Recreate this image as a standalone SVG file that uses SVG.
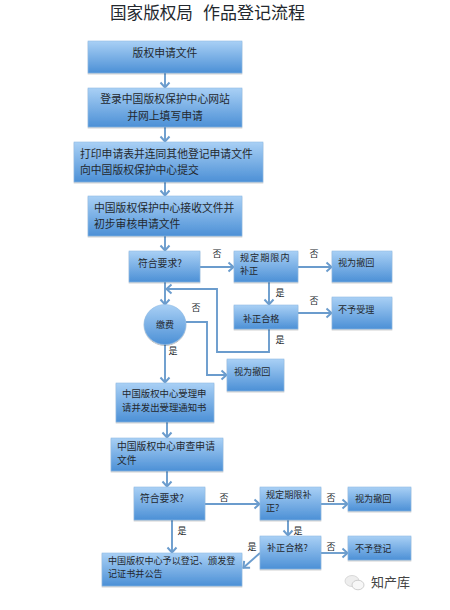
<svg xmlns="http://www.w3.org/2000/svg" width="450" height="610" viewBox="0 0 450 610">
<style>
text{font-family:"Noto Sans CJK SC","Noto Sans",sans-serif;fill:#23282e}
.b{fill:url(#g);stroke:#8fbbe4;stroke-width:.6;filter:url(#s)}
.t11{font-size:10.8px}.t10{font-size:9.800px}.t9{font-size:9.100px}.l{font-size:9px;text-anchor:middle}
#connectors path{fill:none;stroke:#6b9ccd;stroke-width:1.9;marker-end:url(#a)}
</style>
<defs>
<linearGradient id="g" x1="0" y1="0" x2="0" y2="1"><stop offset="0" stop-color="#a9d0f5"/><stop offset="1" stop-color="#4c90d6"/></linearGradient>
<filter id="s" x="-10%" y="-10%" width="120%" height="130%"><feDropShadow dx="0" dy="1" stdDeviation=".7" flood-color="#000" flood-opacity=".3"/></filter>
<marker id="a" markerUnits="userSpaceOnUse" markerWidth="10" markerHeight="12" refX="7" refY="6" orient="auto"><path d="M1.5,1.500 L6.500,6 L1.5,10.500" fill="none" stroke="#6b9ccd" stroke-width="2"/></marker>
</defs>
<rect width="450" height="610" fill="#fff"/>
<g id="title"><text x="110" y="19" style="font-size:16.6px">国家版权局</text><text x="203" y="19" style="font-size:17px">作品登记流程</text></g>
<g id="connectors">
<path d="M165,73V88"/><path d="M165,127V142"/><path d="M165,182V196"/><path d="M165,236V251"/>
<path d="M200,267H234"/><path d="M298,267H332"/><path d="M269,282V305"/><path d="M298,313H332"/>
<path d="M165,282V305"/><path d="M269,329V352H217V289H166"/><path d="M186,322H207V375H227"/><path d="M165,344V383"/>
<path d="M167,422V438"/><path d="M167,471V487"/><path d="M205,504H260"/><path d="M321,504H348"/>
<path d="M288,520V536"/><path d="M321,553H348"/><path d="M172,520V553"/><path d="M260,553L243,568"/>
</g>
<g id="n1"><rect class="b" x="88" y="41" width="154" height="32"/><text class="t11" x="165" y="57" text-anchor="middle">版权申请文件</text></g>
<g id="n2"><rect class="b" x="88" y="88" width="154" height="39"/><text class="t11" x="165" y="103" text-anchor="middle">登录中国版权保护中心网站</text><text class="t11" x="165" y="120" text-anchor="middle">并网上填写申请</text></g>
<g id="n3"><rect class="b" x="74" y="142" width="189" height="40"/><text class="t11" x="80" y="158">打印申请表并连同其他登记申请文件</text><text class="t11" x="80" y="174">向中国版权保护中心提交</text></g>
<g id="n4"><rect class="b" x="88" y="196" width="154" height="40"/><text class="t11" x="94" y="212">中国版权保护中心接收文件并</text><text class="t11" x="94" y="228">初步审核申请文件</text></g>
<g id="n5"><rect class="b" x="129" y="251" width="71" height="31"/><text class="t10" x="138" y="267">符合要求?</text></g>
<g id="n6"><rect class="b" x="234" y="251" width="64" height="31"/><text class="t9" x="240" y="261" letter-spacing="1">规定期限内</text><text class="t9" x="240" y="274.300">补正</text></g>
<g id="n7"><rect class="b" x="332" y="251" width="60" height="31"/><text class="t9" x="338" y="266">视为撤回</text></g>
<g id="n8"><rect class="b" x="234" y="305" width="64" height="24"/><text class="t9" x="243" y="322">补正合格</text></g>
<g id="n9"><rect class="b" x="332" y="297" width="60" height="32"/><text class="t9" x="338" y="313">不予受理</text></g>
<g id="n10"><ellipse class="b" cx="165" cy="324.500" rx="21" ry="20"/><text x="165" y="328" text-anchor="middle" style="font-size:9px">缴费</text></g>
<g id="n11"><rect class="b" x="227" y="359" width="57" height="32"/><text class="t9" x="234" y="375">视为撤回</text></g>
<g id="n12"><rect class="b" x="116" y="383" width="98" height="39"/><text class="t9" x="122" y="397" style="font-size:9.400px">中国版权中心受理申</text><text class="t9" x="122" y="410.700" style="font-size:9.400px">请并发出受理通知书</text></g>
<g id="n13"><rect class="b" x="111" y="438" width="112" height="33"/><text class="t10" x="117" y="450">中国版权中心审查申请</text><text class="t10" x="117" y="464.300">文件</text></g>
<g id="n14"><rect class="b" x="134" y="487" width="71" height="33"/><text class="t10" x="140" y="502">符合要求?</text></g>
<g id="n15"><rect class="b" x="260" y="487" width="61" height="33"/><text class="t9" x="266" y="498">规定期限补</text><text class="t9" x="266" y="511.300">正?</text></g>
<g id="n16"><rect class="b" x="348" y="487" width="63" height="24"/><text class="t9" x="355" y="502">视为撤回</text></g>
<g id="n17"><rect class="b" x="260" y="536" width="61" height="33"/><text class="t9" x="267" y="551">补正合格?</text></g>
<g id="n18"><rect class="b" x="348" y="536" width="63" height="24"/><text class="t9" x="355" y="552">不予登记</text></g>
<g id="n19"><rect class="b" x="102" y="553" width="140" height="33"/><text class="t9" x="108" y="564">中国版权中心予以登记、颁发登</text><text class="t9" x="108" y="577.300">记证书并公告</text></g>
<g id="labels">
<text class="l" x="217" y="257">否</text><text class="l" x="314" y="257">否</text><text class="l" x="314" y="304">否</text><text class="l" x="280" y="296">是</text><text class="l" x="280" y="343">是</text><text class="l" x="196" y="311">否</text><text class="l" x="173" y="354">是</text>
<text class="l" x="224" y="501">否</text><text class="l" x="331" y="501">否</text><text class="l" x="331" y="550">否</text><text class="l" x="182" y="534">是</text><text class="l" x="298" y="534">是</text><text class="l" x="252" y="550">是</text>
</g>
<g id="watermark">
<ellipse cx="352" cy="581" rx="7" ry="5.500" fill="#eee" stroke="#ccc" stroke-width=".7"/><ellipse cx="358" cy="585" rx="6" ry="4.800" fill="#f7f7f7" stroke="#bbb" stroke-width=".7"/>
<text x="371" y="587" style="font-size:13px;fill:#444">知产库</text>
</g>
</svg>
